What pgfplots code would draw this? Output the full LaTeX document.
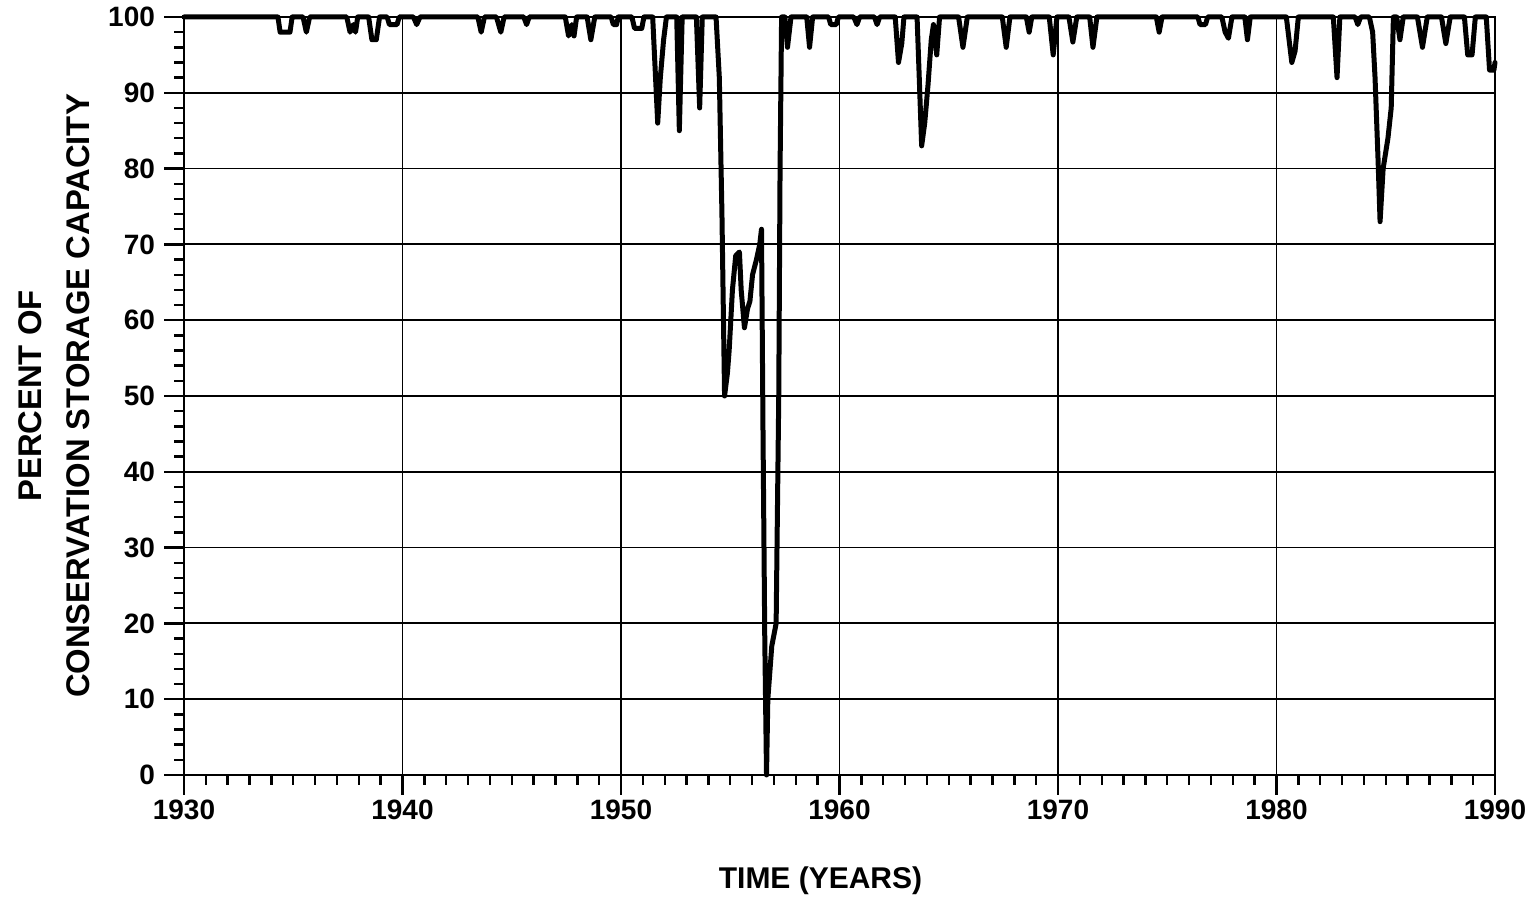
\documentclass[border=0pt]{standalone}
\usepackage{fontspec}
\setmainfont{Liberation Sans}
\usepackage{pgfplots}
\usepackage{pgfplotstable}
\pgfplotsset{compat=1.18}
\pgfplotstableread{
t v
1930 100
1934.3 100
1934.4 98
1934.85 98
1934.95 100
1935.45 100
1935.6 98
1935.75 100
1937.45 100
1937.6 98
1937.75 99
1937.85 98
1937.95 100
1938.45 100
1938.6 97
1938.8 97
1938.95 100
1939.3 100
1939.4 99
1939.75 99
1939.85 100
1940.5 100
1940.65 99
1940.8 100
1943.45 100
1943.6 98
1943.75 100
1944.3 100
1944.5 98
1944.65 100
1945.55 100
1945.68 99
1945.8 100
1947.45 100
1947.6 97.5
1947.75 99
1947.85 97.5
1947.97 100
1948.45 100
1948.62 97
1948.8 100
1949.55 100
1949.65 99
1949.8 99
1949.87 100
1950.5 100
1950.62 98.5
1950.95 98.5
1951.05 100
1951.45 100
1951.68 86
1951.8 92
1951.95 97
1952.08 100
1952.55 100
1952.67 85
1952.8 100
1953.45 100
1953.6 88
1953.72 100
1954.35 100
1954.5 92
1954.62 74
1954.74 50
1954.87 53
1954.95 56
1955.1 64
1955.25 68.5
1955.42 69
1955.5 64
1955.65 59
1955.79 61.5
1955.9 62.5
1956.02 66
1956.2 68
1956.35 70
1956.43 72
1956.5 45
1956.58 18
1956.66 0
1956.72 10
1956.9 17
1957.1 20
1957.16 35
1957.22 50
1957.28 80
1957.35 100
1957.5 100
1957.62 96
1957.78 100
1958.5 100
1958.63 96
1958.77 100
1959.5 100
1959.6 99
1959.85 99
1959.95 100
1960.65 100
1960.8 99
1960.92 100
1961.6 100
1961.72 99
1961.84 100
1962.55 100
1962.7 94
1962.85 96.5
1962.95 100
1963.55 100
1963.65 92
1963.76 83
1963.9 86
1964.05 91
1964.2 97
1964.3 99
1964.45 95
1964.58 100
1965.45 100
1965.65 96
1965.85 100
1967.45 100
1967.63 96
1967.8 100
1968.55 100
1968.68 98
1968.8 100
1969.6 100
1969.78 95
1969.95 100
1970.5 100
1970.68 96.7
1970.86 100
1971.45 100
1971.6 96
1971.78 100
1974.5 100
1974.63 98
1974.76 100
1976.4 100
1976.5 99
1976.75 99
1976.85 100
1977.5 100
1977.65 98
1977.8 97.2
1977.96 100
1978.55 100
1978.67 97
1978.8 100
1980.45 100
1980.7 94
1980.85 95.5
1981.0 100
1982.6 100
1982.77 92
1982.9 100
1983.6 100
1983.72 99
1983.85 100
1984.25 100
1984.4 98
1984.51 92
1984.65 81
1984.74 73
1984.88 80
1985.1 84
1985.25 88
1985.3 94
1985.35 100
1985.5 100
1985.65 97
1985.8 100
1986.45 100
1986.68 96
1986.9 100
1987.55 100
1987.75 96.5
1987.95 100
1988.6 100
1988.75 95
1988.95 95
1989.1 100
1989.6 100
1989.75 93
1989.95 93
1990 94
}\storage
\begin{document}
\begin{tikzpicture}
\begin{axis}[
  name=ax,
  scale only axis, width=655.5pt, height=379pt,
  xmin=1930, xmax=1990, ymin=0, ymax=100,
  xtick={1930,1940,...,1990}, ytick={0,10,...,100},
  minor x tick num=9, minor y tick num=4,
  tick pos=left,
  tick align=outside,
  major tick length=10pt, minor tick length=5pt,
  every tick/.style={black, line width=1.2pt},
  grid=major, major grid style={line width=0.9pt, black},
  axis line style={line width=1.3pt},
  /pgf/number format/assume math mode=true,
  /pgf/number format/1000 sep={},
  ticklabel style={font=\fontsize{14}{16}\selectfont\bfseries},
  xticklabel style={anchor=north, yshift=1pt},
  yticklabel style={anchor=east, xshift=-1pt},
  xlabel={TIME (YEARS)},
  xlabel style={font=\fontsize{15}{17}\selectfont\bfseries, at={(axis description cs:0.4855,-0.14)}, anchor=center},
  ylabel={PERCENT OF\\CONSERVATION STORAGE CAPACITY},
  ylabel style={font=\fontsize{16.4}{24}\selectfont\bfseries, align=center, at={(axis description cs:-0.0993,0.5)}, anchor=center},
  clip=false,
]
\addplot[black, line width=2.5pt, line join=round, line cap=round] table[x=t, y=v] {\storage};
\end{axis}
\pgfresetboundingbox
\path[use as bounding box] ([shift={(-92pt,-61.5pt)}]ax.south west) rectangle ([shift={(16.5pt,8.5pt)}]ax.north east);
\end{tikzpicture}
\end{document}
